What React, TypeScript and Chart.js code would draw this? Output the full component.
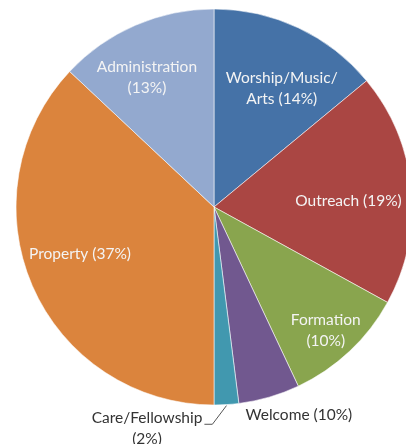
import React, { useEffect, useRef } from "react";
import { Chart, registerables } from "chart.js";

Chart.register(...registerables);

const categories = ["Worship/Music/Arts", "Outreach", "Formation", "Welcome", "Care/Fellowship", "Property", "Administration"];
const shares = [14, 19, 10, 5, 2, 37, 13];
const labelLines = [
  ["Worship/Music/", "Arts (14%)"],
  ["Outreach (19%)"],
  ["Formation", "(10%)"],
  ["Welcome (10%)"],
  ["Care/Fellowship", "(2%)"],
  ["Property (37%)"],
  ["Administration", "(13%)"],
];
const colors = ["#4572A7", "#AA4643", "#89A54E", "#71588F", "#4198AF", "#DB843D", "#93A9CF"];

// label placement: angle (deg clockwise from top), radius fraction, inside?
const labelPlace = [
  { a: 29.7, r: 0.69, inside: true },
  { a: 87.5, r: 0.68, inside: true },
  { a: 137.8, r: 0.84, inside: true },
  { a: 157.8, r: 1.135, inside: false },
  { a: 196.8, r: 1.17, inside: false, leader: true },
  { a: 250.7, r: 0.717, inside: true },
  { a: 332.6, r: 0.736, inside: true },
];

const FONT = "15.5px Lato";
const LINE_H = 21;

const labelPlugin = {
  id: "pieLabels",
  afterDatasetsDraw(chart: any) {
    const meta = chart.getDatasetMeta(0);
    const ctx = chart.ctx;
    ctx.save();
    ctx.font = FONT;
    ctx.textAlign = "center";
    ctx.textBaseline = "middle";
    meta.data.forEach((arc: any, i: number) => {
      const p = labelPlace[i];
      const R = arc.outerRadius;
      const ang = (p.a * Math.PI) / 180;
      const cx = arc.x + Math.sin(ang) * R * p.r;
      const cy = arc.y - Math.cos(ang) * R * p.r;
      const lines = labelLines[i];
      const y0 = cy - ((lines.length - 1) * LINE_H) / 2;
      ctx.fillStyle = p.inside ? "#f4f4f4" : "#333333";
      lines.forEach((ln, k) => ctx.fillText(ln, cx, y0 + k * LINE_H));
      if (p.leader) {
        const w = ctx.measureText(lines[0]).width;
        const sx = cx + w / 2 + 2;
        const sy = y0 + 6;
        const mid = (arc.startAngle + arc.endAngle) / 2;
        const ex = arc.x + Math.cos(mid) * (R + 1);
        const ey = arc.y + Math.sin(mid) * (R + 1);
        ctx.strokeStyle = "#555";
        ctx.lineWidth = 1;
        ctx.beginPath();
        ctx.moveTo(sx, sy);
        ctx.lineTo(sx + 8, sy);
        ctx.lineTo(ex, ey);
        ctx.stroke();
      }
    });
    ctx.restore();
  },
};

export default function App() {
  const ref = useRef<HTMLCanvasElement>(null);
  useEffect(() => {
    const chart = new Chart(ref.current as HTMLCanvasElement, {
      type: "pie",
      data: {
        labels: categories,
        datasets: [
          {
            data: shares,
            backgroundColor: colors,
            borderColor: "rgba(255,255,255,0.55)",
            borderWidth: 1,
            radius: 198,
            clip: false,
          } as any,
        ],
      },
      options: {
        responsive: false,
        animation: false,
        layout: { padding: { left: 22, right: 0, top: 0, bottom: 30 } },
        plugins: { legend: { display: false }, tooltip: { enabled: false } },
      },
      plugins: [labelPlugin],
    });
    return () => chart.destroy();
  }, []);
  return (
    <div style={{ position: "fixed", left: 0, top: 0, width: 406, height: 444, overflow: "hidden", background: "#fff" }}>
      <canvas ref={ref} width={406} height={444} />
    </div>
  );
}
